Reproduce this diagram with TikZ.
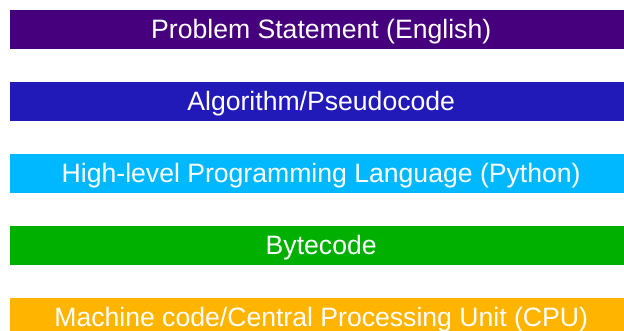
\documentclass[tikz,border=0pt]{standalone}
\usepackage{fontspec}
\setmainfont{Liberation Sans}
\definecolor{layerA}{HTML}{46007E}
\definecolor{layerB}{HTML}{2119B8}
\definecolor{layerC}{HTML}{00B8FF}
\definecolor{layerD}{HTML}{00B000}
\definecolor{layerE}{HTML}{FFB400}
\begin{document}
\begin{tikzpicture}[x=1pt,y=-1pt,
  layer/.style={minimum width=623pt,minimum height=39pt,inner sep=0pt,
    text height=18pt,text depth=0pt,
    text=white,font=\fontsize{26.6}{30}\selectfont,anchor=west}]
\useasboundingbox (0,0) rectangle (624,331);
\clip (0,0) rectangle (624,331);
\node[layer,fill=layerA] (l1) at (9.5,29.5) {Problem Statement (English)};
\node[layer,fill=layerB] (l2) at (9.5,101.5) {Algorithm/Pseudocode};
\node[layer,fill=layerC] (l3) at (9.5,173.5) {High-level Programming Language (Python)};
\node[layer,fill=layerD] (l4) at (9.5,245.5) {Bytecode};
\node[layer,fill=layerE] (l5) at (9.5,317.5) {Machine code/Central Processing Unit (CPU)};
\end{tikzpicture}
\end{document}
